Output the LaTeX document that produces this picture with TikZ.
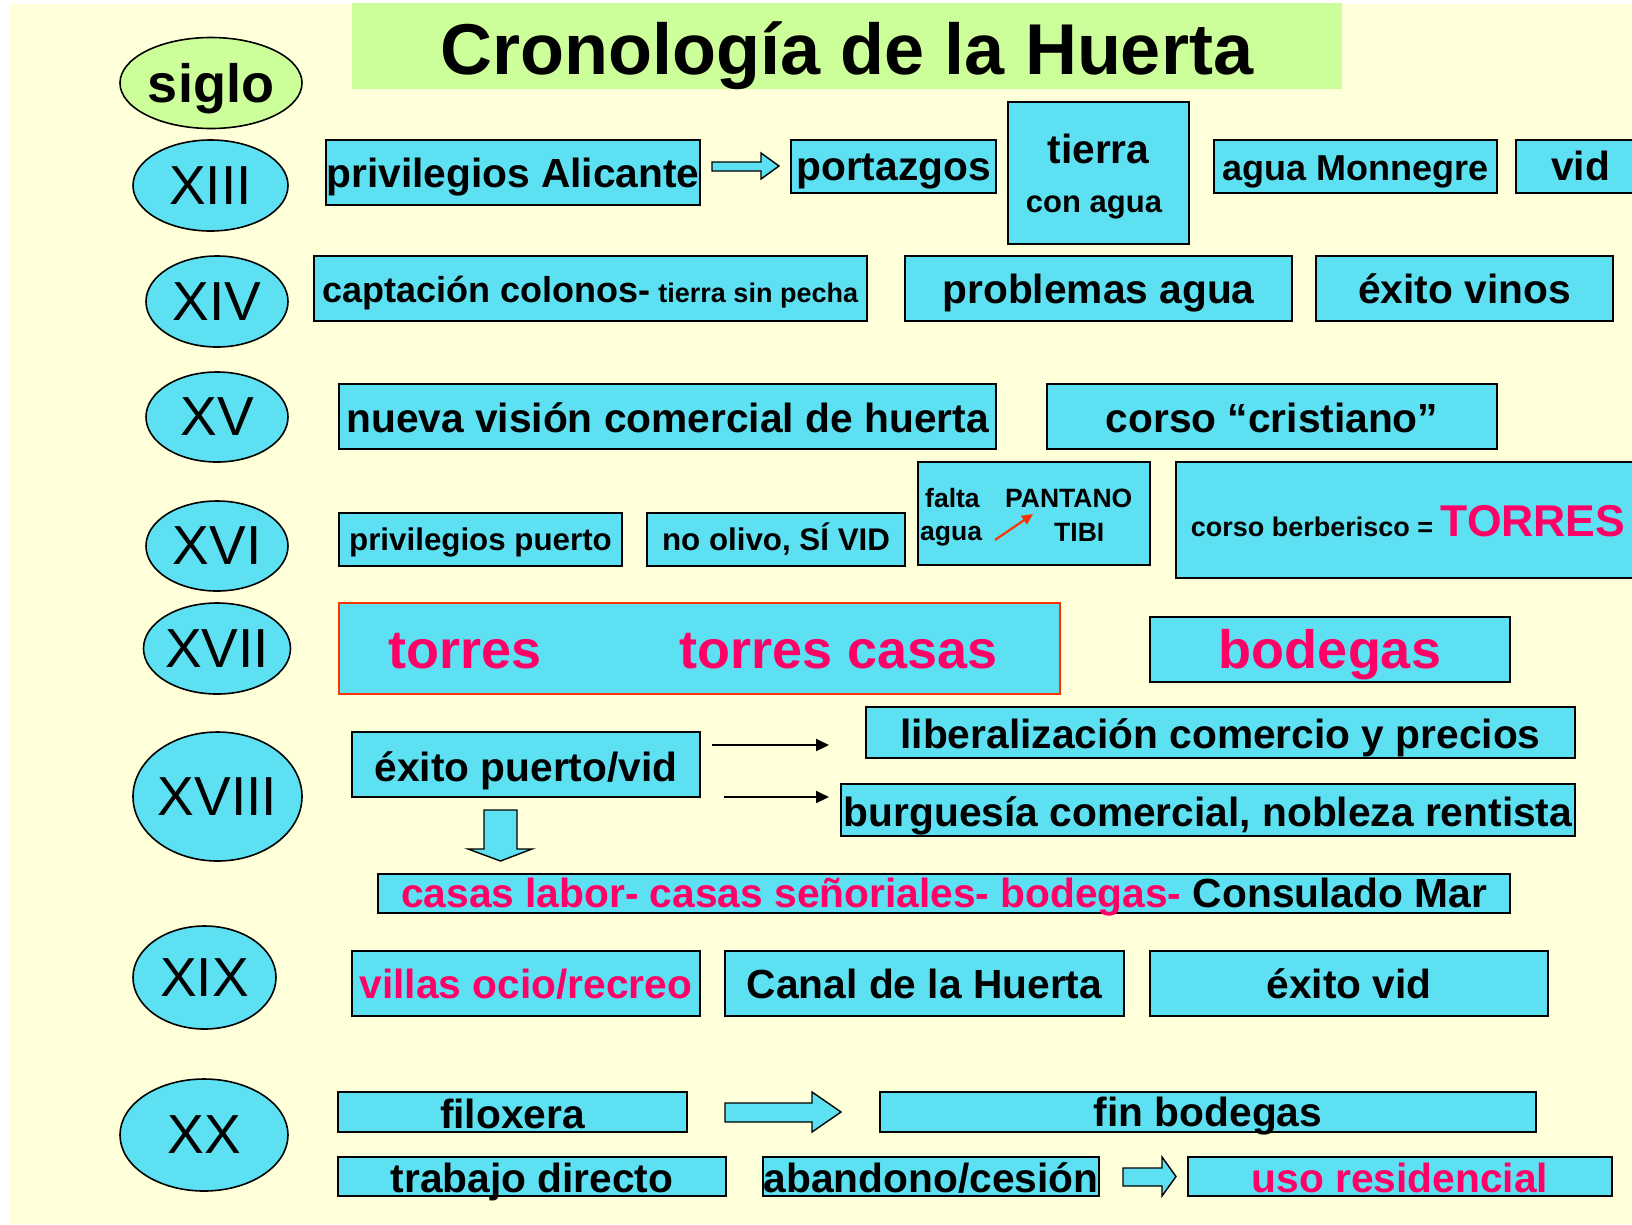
\documentclass[tikz,border=0pt]{standalone}
\usepackage{fontspec}
\setmainfont{Liberation Sans}
\usetikzlibrary{shapes.geometric,arrows.meta}
\definecolor{bgy}{HTML}{FFFFD9}
\definecolor{ttlg}{HTML}{CCFF99}
\definecolor{cyf}{HTML}{5DE1F2}
\definecolor{mag}{HTML}{FF0066}
\definecolor{redb}{HTML}{FF3300}
\newcommand\fsz[1]{\fontsize{#1pt}{#1pt}\selectfont}
\newcommand\ybox[8][]{%
  \pgfmathsetmacro\bxw{#5-#3}%
  \pgfmathsetmacro\bxh{#6-#4}%
  \pgfmathsetmacro\bxcx{(#3+#5)/2}%
  \pgfmathsetmacro\bxcy{(#4+#6)/2}%
  \pgfmathsetmacro\bxth{max(2*(#7-\bxcy),0)}%
  \pgfmathsetmacro\bxtd{max(-2*(#7-\bxcy),0)}%
  \node[box,minimum width=\bxw pt,minimum height=\bxh pt,text height=\bxth pt,text depth=\bxtd pt,#1] (#2) at (\bxcx,\bxcy) {#8};%
}
\tikzset{
  box/.style={rectangle,draw=black,line width=1.6pt,fill=cyf,inner sep=0pt,font=\bfseries\fsz{40.7}},
  cent/.style={ellipse,draw=black,line width=1.6pt,fill=cyf,inner sep=0pt,font=\fsz{55}},
  smalltxt/.style={inner sep=0pt,anchor=base west,font=\bfseries\fsz{26.5}},
  linearrow/.style={draw=black,line width=2pt,-{Triangle[length=13pt,width=12pt]}},
  redarrow/.style={draw=redb,line width=2.2pt,-{Triangle[length=11pt,width=10pt]}},
  blockarrow/.style={draw=black,line width=1.4pt,fill=cyf,line join=miter},
}
\begin{document}
\begin{tikzpicture}[x=1pt,y=-1pt]
\clip (0,0) rectangle (1632,1224);
\fill[white] (0,0) rectangle (1632,1224);
\fill[bgy] (10,4) rectangle (1632,1224);

% title
\ybox[draw=none,fill=ttlg,font=\bfseries\fsz{72}]{title}{352}{3}{1342}{89}{74}{Cronología de la Huerta}

% centuries
\node[cent,fill=ttlg,font=\bfseries\fsz{54},text depth=0pt,minimum width=182pt,minimum height=91pt] (siglo) at (211,83) {siglo};
\node[cent,minimum width=155pt,minimum height=91pt] (c13) at (210.5,185.5) {XIII};
\node[cent,minimum width=142pt,minimum height=91pt] (c14) at (217,301.5) {XIV};
\node[cent,minimum width=142pt,minimum height=90pt] (c15) at (217,417) {XV};
\node[cent,minimum width=142pt,minimum height=90pt] (c16) at (217,546) {XVI};
\node[cent,minimum width=142pt,minimum height=91pt] (c17) at (217,648.5) {XVII};
\node[cent,minimum width=169pt,minimum height=129pt] (c18) at (217.5,796.5) {XVIII};
\node[cent,minimum width=143pt,minimum height=103pt] (c19) at (204.5,977.5) {XIX};
\node[cent,minimum width=168pt,minimum height=112pt] (c20) at (204,1135) {XX};

% XIII
\ybox{pa}{326}{140}{700}{205}{187}{privilegios Alicante}
\draw[blockarrow] (712,162) -- (761,162) -- (761,153) -- (779,166) -- (761,179) -- (761,171) -- (712,171) -- cycle;
\ybox{port}{791}{140}{996}{193}{180}{portazgos}
\ybox{tierra}{1008}{102}{1189}{244}{163}{tierra}
\node[inner sep=0pt,anchor=base,font=\bfseries\fsz{31}] (conagua) at (1094,212) {con agua};
\ybox[font=\bfseries\fsz{36}]{monn}{1214}{140}{1497}{193}{180}{agua Monnegre}
\ybox{vid}{1516}{140}{1645}{193}{180}{vid}

% XIV
\ybox[font=\bfseries\fsz{36}]{capt}{314}{256}{867}{321}{302}{captación colonos-\fsz{27} tierra sin pecha}
\ybox{prob}{905}{256}{1292}{321}{303}{problemas agua}
\ybox{vinos}{1316}{256}{1613}{321}{303}{éxito vinos}

% XV
\ybox{nueva}{339}{384}{996}{449}{432}{nueva visión comercial de huerta}
\ybox{corso}{1047}{384}{1497}{449}{432}{corso “cristiano”}

% XVI
\ybox[font=\bfseries\fsz{31.3}]{ppuerto}{339}{513}{622}{566}{550}{privilegios puerto}
\ybox[font=\bfseries\fsz{31.3}]{olivo}{647}{513}{905}{566}{550}{no olivo, SÍ VID}
\ybox{pant}{918}{462}{1150}{565}{513.5}{}
\node[smalltxt] (falta) at (925,507) {falta};
\node[smalltxt] (pantano) at (1005,507) {PANTANO};
\node[smalltxt] (agua) at (920,540) {agua};
\node[smalltxt] (tibi) at (1054,541) {TIBI};
\coordinate (ra1) at (995,540);
\coordinate (ra2) at (1033,514);
\draw[redarrow] (ra1) -- (ra2);
\ybox[font=\bfseries\fsz{27}]{berb}{1176}{462}{1650}{578}{536}{corso berberisco = {\color{mag}\fsz{44.5}TORRES}\hspace*{10pt}}

% XVII
\ybox[draw=redb,font=\bfseries\fsz{54},text=mag]{torres}{339}{603}{1060}{694}{668}{torres\hspace*{138pt}torres casas\hspace*{13pt}}
\ybox[font=\bfseries\fsz{54},text=mag]{bodegas}{1150}{617}{1510}{682}{668}{bodegas}

% XVIII
\ybox{epv}{352}{732}{700}{797}{781}{éxito puerto/vid}
\coordinate (l1s) at (712,745);
\coordinate (l1e) at (829,745);
\coordinate (l2s) at (724,797);
\coordinate (l2e) at (829,797);
\draw[linearrow] (l1s) -- (l1e);
\draw[linearrow] (l2s) -- (l2e);
\ybox{lib}{866}{707}{1575}{758}{748}{liberalización comercio y precios}
\ybox{burg}{841}{784}{1575}{836}{826}{burguesía comercial, nobleza rentista}
\draw[blockarrow] (484,810) -- (517,810) -- (517,849) -- (532,849) -- (500.5,861) -- (468,849) -- (484,849) -- cycle;
\ybox{casas}{378}{874}{1510}{913}{907}{{\color{mag}casas labor- casas señoriales- bodegas-} Consulado Mar}

% XIX
\ybox[text=mag]{villas}{352}{951}{700}{1016}{998}{villas ocio/recreo}
\ybox{canal}{725}{951}{1124}{1016}{998}{Canal de la Huerta}
\ybox{evid}{1150}{951}{1548}{1016}{998}{éxito vid}

% XX
\ybox{filox}{338}{1092}{687}{1132}{1128}{filoxera}
\draw[blockarrow] (725,1103) -- (812,1103) -- (812,1092) -- (841,1112) -- (812,1132) -- (812,1122) -- (725,1122) -- cycle;
\ybox{finb}{880}{1092}{1536}{1132}{1126}{fin bodegas}
\ybox{trab}{338}{1157}{726}{1196}{1192}{trabajo directo}
\ybox{aband}{763}{1157}{1099}{1196}{1192}{abandono/cesión}
\draw[blockarrow] (1123,1168) -- (1162,1168) -- (1162,1157) -- (1176,1176.5) -- (1162,1196) -- (1162,1186) -- (1123,1186) -- cycle;
\ybox[text=mag]{uso}{1188}{1157}{1612}{1196}{1192}{uso residencial}
\end{tikzpicture}
\end{document}
